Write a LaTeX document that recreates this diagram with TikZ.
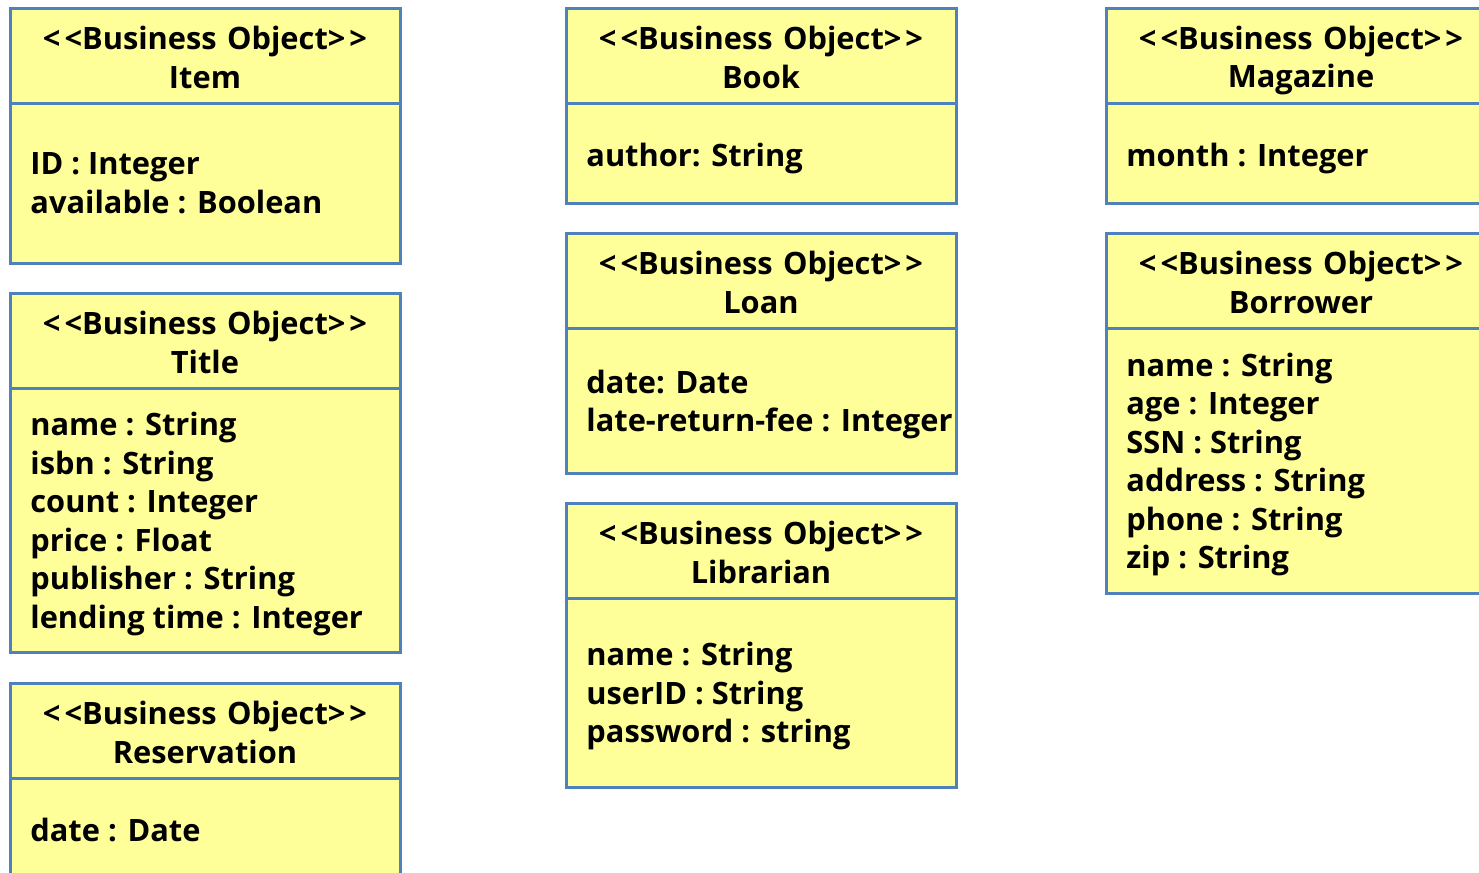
\documentclass[tikz,border=0pt]{standalone}
\usepackage{fontspec}
\setmainfont{Open Sans}
\usetikzlibrary{positioning}
\definecolor{boline}{RGB}{79,129,189}
\definecolor{bofill}{RGB}{255,255,153}

\begin{document}
\begin{tikzpicture}[x=0.5pt, y=0.5pt,
		head/.style={draw=boline, fill=bofill, line width=1.5pt, anchor=north west, outer sep=0pt, minimum width=195pt, minimum height=47.5pt, text width=195pt, inner sep=0pt, align=center, font=\bfseries\fontsize{15.4}{19.25}\selectfont, execute at begin node=\rule{0pt}{16.5pt}, execute at end node=\rule[-2.8pt]{0pt}{0pt}},
		body/.style={draw=boline, fill=bofill, line width=1.5pt, outer sep=0pt, minimum width=195pt, inner sep=0pt},
		attr/.style={anchor=west, inner sep=0pt, yshift=-3pt, align=left, font=\bfseries\fontsize{15.4}{19.25}\selectfont, execute at begin node=\strut, execute at end node=\strut}]
			\useasboundingbox (0,0) rectangle (1479,-873);
			\clip (0,0) rectangle (1479,-873);
			% left column
			\node[head] (itemhead) at (10,-8) {<\kern2pt<Business Object>\kern2pt>\\Item};
			\node[body, minimum height=80pt, below=0pt of itemhead] (itembody) {};
			\node[attr, right=10pt of itembody.west] (itemattr) {ID : Integer\\available : Boolean};
			\node[head] (titlehead) at (10,-293) {<\kern2pt<Business Object>\kern2pt>\\Title};
			\node[body, minimum height=132pt, below=0pt of titlehead] (titlebody) {};
			\node[attr, right=10pt of titlebody.west] (titleattr) {name : String\\isbn : String\\count : Integer\\price : Float\\publisher : String\\lending time : Integer};
			\node[head] (reservhead) at (10,-683) {<\kern2pt<Business Object>\kern2pt>\\Reservation};
			\node[body, minimum height=50pt, below=0pt of reservhead] (reservbody) {};
			\node[attr, right=10pt of reservbody.west] (reservattr) {date : Date};
			% middle column
			\node[head] (bookhead) at (566,-8) {<\kern2pt<Business Object>\kern2pt>\\Book};
			\node[body, minimum height=50pt, below=0pt of bookhead] (bookbody) {};
			\node[attr, right=10pt of bookbody.west] (bookattr) {author: String};
			\node[head] (loanhead) at (566,-233) {<\kern2pt<Business Object>\kern2pt>\\Loan};
			\node[body, minimum height=72.5pt, below=0pt of loanhead] (loanbody) {};
			\node[attr, right=10pt of loanbody.west] (loanattr) {date: Date\\late-return-fee : Integer};
			\node[head] (libhead) at (566,-503) {<\kern2pt<Business Object>\kern2pt>\\Librarian};
			\node[body, minimum height=94.5pt, below=0pt of libhead] (libbody) {};
			\node[attr, right=10pt of libbody.west] (libattr) {name : String\\userID : String\\password : string};
			% right column
			\node[head] (maghead) at (1106,-8) {<\kern2pt<Business Object>\kern2pt>\\Magazine};
			\node[body, minimum height=50pt, below=0pt of maghead] (magbody) {};
			\node[attr, right=10pt of magbody.west] (magattr) {month : Integer};
			\node[head] (borrowhead) at (1106,-233) {<\kern2pt<Business Object>\kern2pt>\\Borrower};
			\node[body, minimum height=132.5pt, below=0pt of borrowhead] (borrowbody) {};
			\node[attr, right=10pt of borrowbody.west] (borrowattr) {name : String\\age : Integer\\SSN : String\\address : String\\phone : String\\zip : String};
		\end{tikzpicture}
\end{document}
